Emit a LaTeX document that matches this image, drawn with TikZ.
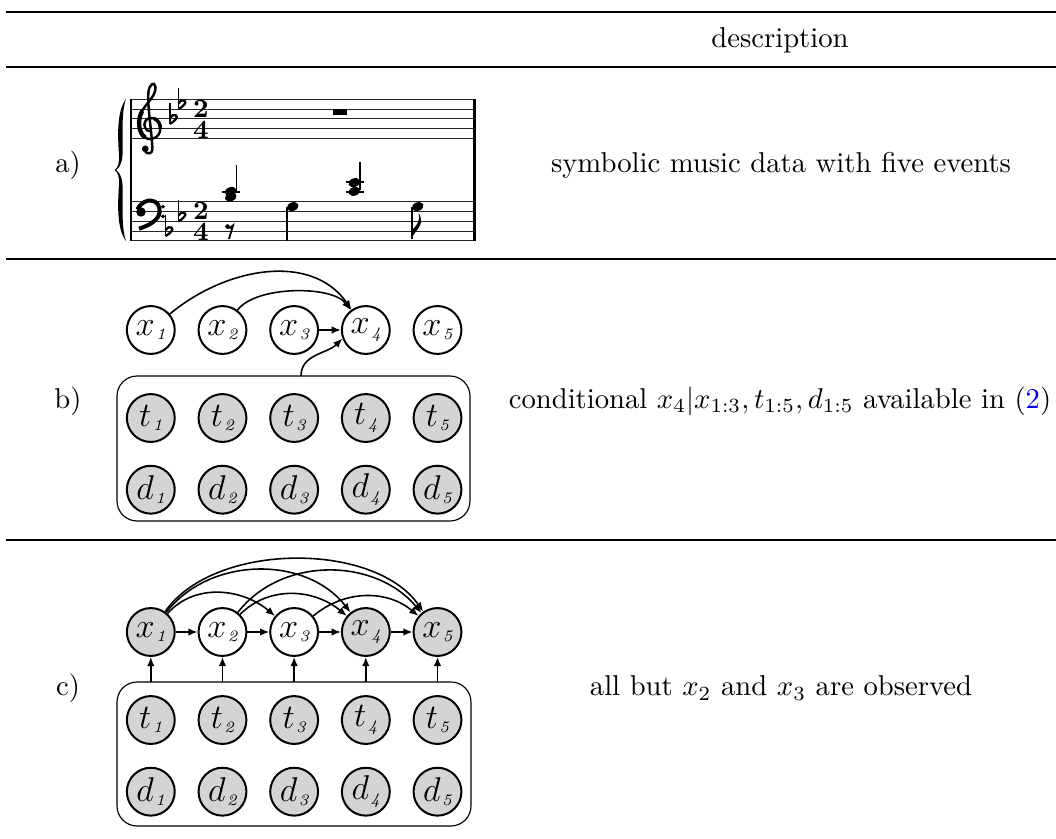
\documentclass[tikz,border=0pt]{standalone}
\usepackage{amsmath,amssymb}
\usepackage{xcolor}
\usetikzlibrary{arrows.meta,positioning,calc}

% small slanted index inside the circles
\newcommand\evsub[1]{\hspace{0.5pt}\raisebox{-1.5pt}{\fontsize{5.6}{6}\selectfont\itshape #1}}
% flat sign, stem at x, bowl at y (pixels, y downwards)
\newcommand\flatsign[2]{%
  \draw[line width=0.5pt] (#1,-#2+16) -- (#1,-#2-5);
  \draw[line width=0.8pt] (#1,-#2-5) .. controls (#1+5,-#2-2) and (#1+8.5,-#2+1.5) .. (#1+6,-#2+3.5)
     .. controls (#1+4,-#2+5) and (#1+1.5,-#2+3.5) .. (#1,-#2+1);}
% filled note head
\newcommand\nhead[2]{\fill[rotate around={20:(#1,-#2)}] (#1,-#2) ellipse (6 and 4.3);}

\tikzset{
  evnode/.style={circle,draw,line width=0.7pt,minimum size=16.7pt,inner sep=0pt,font=\fontsize{12}{14}\selectfont},
  obsnode/.style={evnode,fill=black!17},
  link/.style={-{Latex[length=3.2pt,width=2.6pt]},line width=0.55pt},
  tabrule/.style={line width=0.75pt},
  staffline/.style={line width=0.4pt,black!85},
  tsig/.style={inner sep=0pt,font=\fontsize{9.2}{9.2}\selectfont\bfseries}
}

\begin{document}
\begin{tikzpicture}[x=0.3488pt,y=0.3488pt,node distance=25pt]
    \useasboundingbox (0,0) rectangle (1056,-839);
    % table rules
    \draw[tabrule] (6,-12) -- (1056,-12);
    \draw[tabrule] (6,-67) -- (1056,-67);
    \draw[tabrule] (6,-259) -- (1056,-259);
    \draw[tabrule] (6,-540) -- (1056,-540);
    \node[] (hd) at (780,-40) {description};
    \node[] (la) at (68,-165) {a)};
    \node[] (lb) at (68,-401) {b)};
    \node[] (lc) at (68,-688) {c)};
    \node[] (da) at (781,-165) {symbolic music data with five events};
    \node[] (db) at (780,-401) {conditional $x_4|x_{1:3},t_{1:5},d_{1:5}$ available in (\textcolor{blue}{2})};
    \node[] (dc) at (781,-688) {all but $x_2$ and $x_3$ are observed};

    % a) the score
    \foreach \k in {0,...,4} {
      \draw[staffline] (131,{-99.3-9.8*\k}) -- (474.5,{-99.3-9.8*\k});
      \draw[staffline] (131,{-201.7-9.8*\k}) -- (474.5,{-201.7-9.8*\k});
    }
    \draw[line width=0.5pt] (131,-99.3) -- (131,-240.9);
    \draw[line width=0.7pt] (474.5,-99.3) -- (474.5,-240.9);
    \fill (126,-99) .. controls (116,-112) and (118,-140) .. (119,-155)
        .. controls (119.5,-163) and (118,-168) .. (114.5,-170)
        .. controls (118,-172) and (119.5,-177) .. (119,-185)
        .. controls (118,-200) and (116,-228) .. (126,-241)
        .. controls (121,-228) and (123,-200) .. (122.5,-185)
        .. controls (122,-176) and (119,-172) .. (116,-170)
        .. controls (119,-168) and (122,-164) .. (122.5,-155)
        .. controls (123,-140) and (121,-112) .. (126,-99) -- cycle;
    % treble clef
    \begin{scope}[shift={(149,-128.7)},scale=9.8,line width=0.85pt]
      \draw (0.35,-2.0) .. controls (0.25,0.0) and (-0.2,2.5) .. (-0.05,3.8)
        .. controls (0.05,4.5) and (0.55,4.9) .. (0.65,4.3)
        .. controls (0.8,3.4) and (-0.3,2.6) .. (-0.7,1.8)
        .. controls (-1.2,0.9) and (-1.1,-0.4) .. (-0.4,-0.9)
        .. controls (0.2,-1.3) and (1.1,-0.9) .. (1.15,-0.05)
        .. controls (1.2,0.8) and (0.6,1.15) .. (0.15,1.1)
        .. controls (-0.35,1.05) and (-0.6,0.55) .. (-0.4,0.1)
        .. controls (-0.3,-0.15) and (-0.05,-0.3) .. (0.15,-0.25);
      \draw[line width=1.5pt] (-0.7,1.8) .. controls (-1.2,0.9) and (-1.1,-0.4) .. (-0.4,-0.9);
      \draw[line width=1.2pt] (1.15,-0.05) .. controls (1.2,0.5) and (0.9,0.9) .. (0.5,1.05);
      \draw (0.35,-2.0) .. controls (0.4,-2.55) and (-0.1,-2.65) .. (-0.4,-2.35);
      \fill (-0.38,-2.05) circle (0.34);
    \end{scope}
    % bass clef
    \begin{scope}[shift={(140.5,-211.5)},scale=9.8]
      \fill (0.05,-0.05) circle (0.48);
      \draw[line width=1.4pt] (-0.3,0.2) .. controls (0.0,0.95) and (0.7,1.15) .. (1.05,1.12)
        .. controls (1.7,1.08) and (2.0,0.55) .. (1.95,-0.05)
        .. controls (1.9,-0.8) and (1.0,-1.4) .. (-0.15,-1.75);
      \fill (2.3,0.5) circle (0.2) (2.3,-0.5) circle (0.2);
    \end{scope}
    \flatsign{170}{118.9}
    \flatsign{178.5}{104.2}
    \flatsign{165.5}{231.1}
    \flatsign{178.5}{216.4}
    \node[tsig] (ta) at (201,-108.4) {2};
    \node[tsig] (tb) at (201,-129.6) {4};
    \node[tsig] (tc) at (201,-210.8) {2};
    \node[tsig] (td) at (201,-232) {4};
    % notes and rests
    \draw[line width=0.5pt] (222,-191.9) -- (239.5,-191.9);
    \nhead{230.7}{191.4}
    \nhead{230.7}{197}
    \draw[line width=0.45pt] (236.5,-193) -- (236.5,-165);
    \fill (227.5,-226.5) circle (2.3);
    \draw[line width=0.65pt] (227.5,-227.5) .. controls (229,-228.5) and (231,-228) .. (233,-225.5) -- (229,-239);
    \nhead{292.7}{206.6}
    \draw[line width=0.45pt] (286.9,-207) -- (286.9,-240.9);
    \fill (332.7,-109.1) rectangle (347.3,-114.5);
    \draw[line width=0.5pt] (345.5,-182.1) -- (363.5,-182.1) (345.5,-191.9) -- (363.5,-191.9);
    \nhead{354.3}{182.6}
    \nhead{354.3}{191.4}
    \draw[line width=0.45pt] (360.1,-190) -- (360.1,-161.7);
    \nhead{417.7}{206.6}
    \draw[line width=0.45pt] (411.9,-207) -- (411.9,-238.5);
    \fill (411.9,-238.5) .. controls (414,-231) and (422,-228) .. (421,-219)
        .. controls (420.5,-216) and (419.5,-214) .. (418.5,-213)
        .. controls (420,-218) and (419,-224) .. (411.9,-230) -- cycle;

    % b) graph
    \node[evnode] (b1) at (150.8,-330) {$x$\evsub{1}};
    \node[evnode] (b2) [right of=b1] {$x$\evsub{2}};
    \node[evnode] (b3) [right of=b2] {$x$\evsub{3}};
    \node[evnode] (b4) [right of=b3] {$x$\evsub{4}};
    \node[evnode] (b5) [right of=b4] {$x$\evsub{5}};
    \node[obsnode,node distance=30.7pt] (bt1) [below of=b1] {$t$\evsub{1}};
    \node[obsnode] (bt2) [right of=bt1] {$t$\evsub{2}};
    \node[obsnode] (bt3) [right of=bt2] {$t$\evsub{3}};
    \node[obsnode] (bt4) [right of=bt3] {$t$\evsub{4}};
    \node[obsnode] (bt5) [right of=bt4] {$t$\evsub{5}};
    \node[obsnode] (bd1) [below of=bt1] {$d$\evsub{1}};
    \node[obsnode] (bd2) [right of=bd1] {$d$\evsub{2}};
    \node[obsnode] (bd3) [right of=bd2] {$d$\evsub{3}};
    \node[obsnode] (bd4) [right of=bd3] {$d$\evsub{4}};
    \node[obsnode] (bd5) [right of=bd4] {$d$\evsub{5}};
    \draw[line width=0.4pt,rounded corners=7pt] (117,-376) rectangle (470,-521);
    \coordinate (btop) at (301,-376);
    \draw[link] (b1) to[out=40,in=125] (b4);
    \draw[link] (b2) to[out=53,in=127,looseness=0.7] (b4);
    \draw[link] (b3) -- (b4);
    \draw[link] (btop) to[out=90,in=225] (b4.200);

    % c) graph
    \node[obsnode] (c1) at (150.8,-632) {$x$\evsub{1}};
    \node[evnode] (c2) [right of=c1] {$x$\evsub{2}};
    \node[evnode] (c3) [right of=c2] {$x$\evsub{3}};
    \node[obsnode] (c4) [right of=c3] {$x$\evsub{4}};
    \node[obsnode] (c5) [right of=c4] {$x$\evsub{5}};
    \node[obsnode,node distance=30.7pt] (ct1) [below of=c1] {$t$\evsub{1}};
    \node[obsnode] (ct2) [right of=ct1] {$t$\evsub{2}};
    \node[obsnode] (ct3) [right of=ct2] {$t$\evsub{3}};
    \node[obsnode] (ct4) [right of=ct3] {$t$\evsub{4}};
    \node[obsnode] (ct5) [right of=ct4] {$t$\evsub{5}};
    \node[obsnode] (cd1) [below of=ct1] {$d$\evsub{1}};
    \node[obsnode] (cd2) [right of=cd1] {$d$\evsub{2}};
    \node[obsnode] (cd3) [right of=cd2] {$d$\evsub{3}};
    \node[obsnode] (cd4) [right of=cd3] {$d$\evsub{4}};
    \node[obsnode] (cd5) [right of=cd4] {$d$\evsub{5}};
    \draw[line width=0.4pt,rounded corners=7pt] (117,-682) rectangle (471,-826);
    \coordinate (ctop) at (0,-682);
    \foreach \i in {1,...,5}
      \draw[link] (c\i |- ctop) -- (c\i);
    \draw[link] (c1) -- (c2);
    \draw[link] (c2) -- (c3);
    \draw[link] (c3) -- (c4);
    \draw[link] (c4) -- (c5);
    \draw[link] (c1) to[out=48,in=140] (c3);
    \draw[link] (c1) to[out=52,in=128] (c4);
    \draw[link] (c1) to[out=55,in=125,looseness=0.85] (c5);
    \draw[link] (c2) to[out=45,in=140] (c4);
    \draw[link] (c2) to[out=52,in=130] (c5);
    \draw[link] (c3) to[out=40,in=140] (c5);
\end{tikzpicture}
\end{document}
